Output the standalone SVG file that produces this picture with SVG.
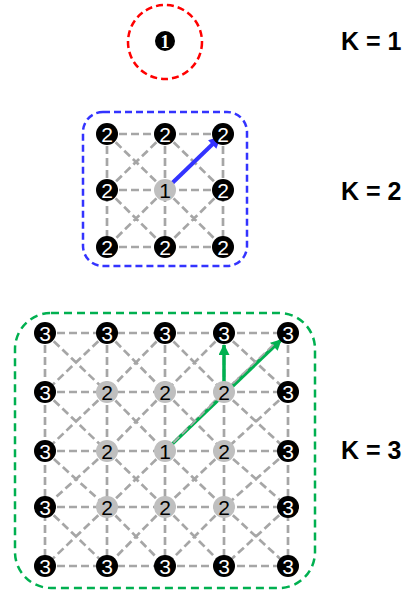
<svg xmlns="http://www.w3.org/2000/svg" width="406" height="590" viewBox="0 0 406 590">
<style>
.grid{fill:none;stroke:#A6A6A6;stroke-width:2.7;stroke-dasharray:8 4}
.bn circle{fill:#000}
.bn text{fill:#fff}
.gn circle{fill:#BFBFBF}
.gn text{fill:#000}
.num{font-family:"Liberation Sans",Arial,sans-serif;font-size:21px;text-anchor:middle}
.lbl{font-family:"Liberation Sans",Arial,sans-serif;font-size:25px;font-weight:bold;fill:#000}
</style>
<defs>
<marker id="ab" viewBox="0 0 10 10" refX="9" refY="5" markerWidth="14" markerHeight="12" markerUnits="userSpaceOnUse" orient="auto"><path d="M0 0L10 5L0 10z" fill="#3333FF"/></marker>
<marker id="ag" viewBox="0 0 10 10" refX="9" refY="5" markerWidth="12" markerHeight="11" markerUnits="userSpaceOnUse" orient="auto"><path d="M0 0L10 5L0 10z" fill="#00B050"/></marker>
</defs>
<rect width="406" height="590" fill="#fff"/>
<g id="frames">
<circle cx="165" cy="42" r="37" fill="none" stroke="#FF0000" stroke-width="2.5" stroke-dasharray="7 4"/>
<rect x="83" y="112" width="164" height="154" rx="20" fill="none" stroke="#3333FF" stroke-width="2.5" stroke-dasharray="7 4"/>
<rect x="15" y="313" width="300" height="275" rx="36" fill="none" stroke="#00B050" stroke-width="2.5" stroke-dasharray="8 5"/>
</g>
<g id="connectors">
<path class="grid" d="M107 134H223M107 190H223M107 247H223M107 134V247M165 134V247M223 134V247M107 134L165 190M165 134L107 190M165 134L223 190M223 134L165 190M107 190L165 247M165 190L107 247M165 190L223 247M223 190L165 247"/>
<path class="grid" d="M45 333H288M45 392H288M45 451H288M45 507H288M45 566H288M45 333V566M107 333V566M165 333V566M224 333V566M288 333V566
M45 333L107 392M107 333L45 392M107 333L165 392M165 333L107 392M165 333L224 392M224 333L165 392M224 333L288 392M288 333L224 392
M45 392L107 451M107 392L45 451M107 392L165 451M165 392L107 451M165 392L224 451M224 392L165 451M224 392L288 451M288 392L224 451
M45 451L107 507M107 451L45 507M107 451L165 507M165 451L107 507M165 451L224 507M224 451L165 507M224 451L288 507M288 451L224 507
M45 507L107 566M107 507L45 566M107 507L165 566M165 507L107 566M165 507L224 566M224 507L165 566M224 507L288 566M288 507L224 566"/>
<line x1="165" y1="190" x2="220" y2="137" stroke="#3333FF" stroke-width="4" marker-end="url(#ab)"/>
<line x1="224" y1="392" x2="224" y2="345" stroke="#00B050" stroke-width="3.5" marker-end="url(#ag)"/>
<line x1="165" y1="451" x2="281" y2="340" stroke="#00B050" stroke-width="3.2" marker-end="url(#ag)"/>
<path d="M165 451L224 392L276 342" fill="none" stroke="#ABABAB" stroke-width="1.8" stroke-dasharray="8 4"/>
</g>
<g id="n1" class="bn"><circle cx="165" cy="41" r="10"/><text x="165" y="47.5" style="font-family:'Liberation Serif',serif;font-size:18px;text-anchor:middle;font-weight:bold">1</text></g>
<g id="k2-00" class="bn num"><circle cx="107" cy="134" r="11"/><text x="107" y="141.5">2</text></g>
<g id="k2-10" class="bn num"><circle cx="165" cy="134" r="11"/><text x="165" y="141.5">2</text></g>
<g id="k2-20" class="bn num"><circle cx="223" cy="134" r="11"/><text x="223" y="141.5">2</text></g>
<g id="k2-01" class="bn num"><circle cx="107" cy="190" r="11"/><text x="107" y="197.5">2</text></g>
<g id="k2-11" class="gn num"><circle cx="165" cy="190" r="11"/><text x="165" y="197.5">1</text></g>
<g id="k2-21" class="bn num"><circle cx="223" cy="190" r="11"/><text x="223" y="197.5">2</text></g>
<g id="k2-02" class="bn num"><circle cx="107" cy="247" r="11"/><text x="107" y="254.5">2</text></g>
<g id="k2-12" class="bn num"><circle cx="165" cy="247" r="11"/><text x="165" y="254.5">2</text></g>
<g id="k2-22" class="bn num"><circle cx="223" cy="247" r="11"/><text x="223" y="254.5">2</text></g>
<g id="k3-00" class="bn num"><circle cx="45" cy="333" r="11"/><text x="45" y="340.5">3</text></g>
<g id="k3-10" class="bn num"><circle cx="107" cy="333" r="11"/><text x="107" y="340.5">3</text></g>
<g id="k3-20" class="bn num"><circle cx="165" cy="333" r="11"/><text x="165" y="340.5">3</text></g>
<g id="k3-30" class="bn num"><circle cx="224" cy="333" r="11"/><text x="224" y="340.5">3</text></g>
<g id="k3-40" class="bn num"><circle cx="288" cy="333" r="11"/><text x="288" y="340.5">3</text></g>
<g id="k3-01" class="bn num"><circle cx="45" cy="392" r="11"/><text x="45" y="399.5">3</text></g>
<g id="k3-11" class="gn num"><circle cx="107" cy="392" r="11"/><text x="107" y="399.5">2</text></g>
<g id="k3-21" class="gn num"><circle cx="165" cy="392" r="11"/><text x="165" y="399.5">2</text></g>
<g id="k3-31" class="gn num"><circle cx="224" cy="392" r="11"/><text x="224" y="399.5">2</text></g>
<g id="k3-41" class="bn num"><circle cx="288" cy="392" r="11"/><text x="288" y="399.5">3</text></g>
<g id="k3-02" class="bn num"><circle cx="45" cy="451" r="11"/><text x="45" y="458.5">3</text></g>
<g id="k3-12" class="gn num"><circle cx="107" cy="451" r="11"/><text x="107" y="458.5">2</text></g>
<g id="k3-22" class="gn num"><circle cx="165" cy="451" r="11"/><text x="165" y="458.5">1</text></g>
<g id="k3-32" class="gn num"><circle cx="224" cy="451" r="11"/><text x="224" y="458.5">2</text></g>
<g id="k3-42" class="bn num"><circle cx="288" cy="451" r="11"/><text x="288" y="458.5">3</text></g>
<g id="k3-03" class="bn num"><circle cx="45" cy="507" r="11"/><text x="45" y="514.5">3</text></g>
<g id="k3-13" class="gn num"><circle cx="107" cy="507" r="11"/><text x="107" y="514.5">2</text></g>
<g id="k3-23" class="gn num"><circle cx="165" cy="507" r="11"/><text x="165" y="514.5">2</text></g>
<g id="k3-33" class="gn num"><circle cx="224" cy="507" r="11"/><text x="224" y="514.5">2</text></g>
<g id="k3-43" class="bn num"><circle cx="288" cy="507" r="11"/><text x="288" y="514.5">3</text></g>
<g id="k3-04" class="bn num"><circle cx="45" cy="566" r="11"/><text x="45" y="573.5">3</text></g>
<g id="k3-14" class="bn num"><circle cx="107" cy="566" r="11"/><text x="107" y="573.5">3</text></g>
<g id="k3-24" class="bn num"><circle cx="165" cy="566" r="11"/><text x="165" y="573.5">3</text></g>
<g id="k3-34" class="bn num"><circle cx="224" cy="566" r="11"/><text x="224" y="573.5">3</text></g>
<g id="k3-44" class="bn num"><circle cx="288" cy="566" r="11"/><text x="288" y="573.5">3</text></g>
<g id="labels">
<text class="lbl" x="341" y="50">K = 1</text>
<text class="lbl" x="341" y="200">K = 2</text>
<text class="lbl" x="341" y="459">K = 3</text>
</g>
</svg>
